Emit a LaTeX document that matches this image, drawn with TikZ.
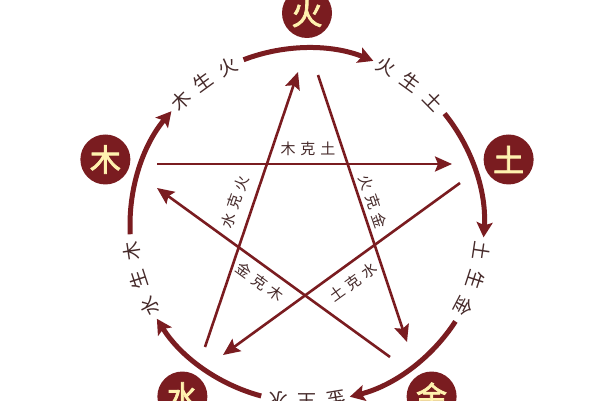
\documentclass[tikz,border=0pt]{standalone}
\usepackage{fontspec}
\newfontfamily\wxcjk{Noto Sans CJK SC}
\newfontfamily\wxcjkb[FakeBold=2.5]{Noto Sans CJK SC}
\usetikzlibrary{arrows.meta}
\definecolor{wxred}{RGB}{122,28,32}
\definecolor{wxtext}{RGB}{255,242,175}
\definecolor{wxlabel}{RGB}{70,42,42}
\newcommand\wxarclabel[5]{%
  \node[shlabel,rotate={#1+9.5-90}] (#5a) at ({#1+9.5}:177) {#2};
  \node[shlabel,rotate={#1-90}] (#5b) at ({#1}:177) {#3};
  \node[shlabel,rotate={#1-9.5-90}] (#5c) at ({#1-9.5}:177) {#4};
}
\begin{document}
\begin{tikzpicture}[x=1pt,y=1pt,
  elem/.style={circle,fill=wxred,minimum size=50pt,inner sep=0pt,text=wxtext,
    font=\wxcjkb\fontsize{31}{31}\selectfont},
  ke/.style={draw=wxred,line width=2.6pt,-{Stealth[length=17pt,width=15pt,inset=3pt]}},
  sheng/.style={draw=wxred,line width=5pt,-{Stealth[length=15pt,width=16pt,inset=3pt]}},
  kelabel/.style={text=wxlabel,font=\wxcjk\fontsize{15}{15}\selectfont,inner sep=0pt},
  shlabel/.style={text=wxlabel,font=\wxcjk\fontsize{19}{19}\selectfont,inner sep=0pt},
]
\useasboundingbox (0,0) rectangle (600,400);
\fill[white] (0,0) rectangle (600,400);

% ke (control) star
\coordinate (k1s) at (157,236); \coordinate (k1e) at (452,236);
\coordinate (k2s) at (318,325); \coordinate (k2e) at (407,58);
\coordinate (k3s) at (460,217); \coordinate (k3e) at (223,45);
\coordinate (k4s) at (390,43);  \coordinate (k4e) at (157,212);
\coordinate (k5s) at (205,53);  \coordinate (k5e) at (298,328);
\draw[ke] (k1s) -- (k1e);
\draw[ke] (k2s) -- (k2e);
\draw[ke] (k3s) -- (k3e);
\draw[ke] (k4s) -- (k4e);
\draw[ke] (k5s) -- (k5e);
\node[kelabel] (l1) at (308,251) {木\hspace{5pt}克\hspace{5pt}土};
\node[kelabel,rotate=71] (l5) at (235,198) {水\hspace{5pt}克\hspace{5pt}火};
\node[kelabel,rotate=-71] (l2) at (373,198) {火\hspace{5pt}克\hspace{5pt}金};
\node[kelabel,rotate=-36] (l4) at (260,118) {金\hspace{5pt}克\hspace{5pt}木};
\node[kelabel,rotate=36] (l3) at (353,118) {土\hspace{5pt}克\hspace{5pt}水};

\begin{scope}[shift={(307,175)}]
  % sheng (generation) arcs
  \foreach \t/\n in {90/a,18/b,-54/c,-126/d,162/e}{
    \coordinate (s\n) at ({\t+21}:177);
    \draw[sheng] (s\n) arc[start angle={\t+21}, end angle={\t-22}, radius=177];
  }
  \wxarclabel{126}{木}{生}{火}{mh}
  \wxarclabel{54}{火}{生}{土}{ht}
  \wxarclabel{-18}{土}{生}{金}{tj}
  \wxarclabel{-90}{金}{生}{水}{js}
  \wxarclabel{-162}{水}{生}{木}{sm}
  % elements
  \node[elem] (huo) at (90:212) {火};
  \node[elem] (tu) at (18:212) {土};
  \node[elem] (jin) at (-54:212) {金};
  \node[elem] (shui) at (-126:212) {水};
  \node[elem] (mu) at (162:212) {木};
\end{scope}
\end{tikzpicture}
\end{document}
